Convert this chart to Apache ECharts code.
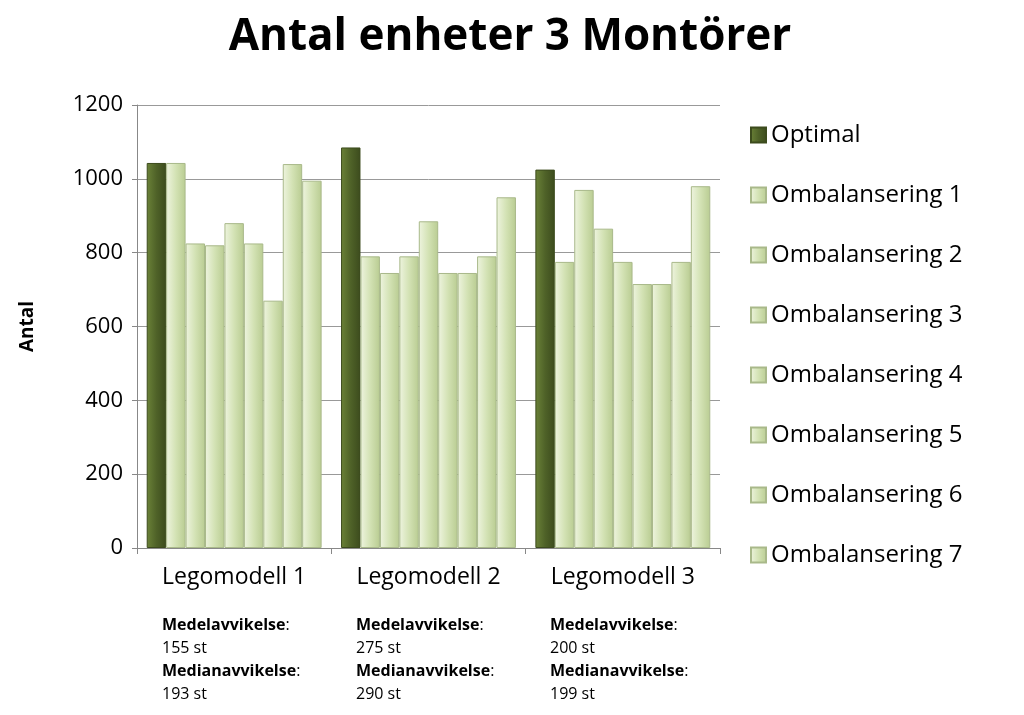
<!DOCTYPE html>
<html><head><meta charset="utf-8">
<script src="https://cdn.jsdelivr.net/npm/echarts@6/dist/echarts.min.js"></script>
<style>html,body{margin:0;background:#fff}#c{width:1024px;height:715px}</style>
</head><body><div id="c"></div>
<script>
var categories = ['Legomodell 1', 'Legomodell 2', 'Legomodell 3'];
var seriesNames = ['Optimal', 'Ombalansering 1', 'Ombalansering 2', 'Ombalansering 3', 'Ombalansering 4',
    'Ombalansering 5', 'Ombalansering 6', 'Ombalansering 7', 'Ombalansering 8'];
var values = [
    [1043, 1085, 1025],
    [1043, 790, 775],
    [825, 745, 970],
    [820, 790, 865],
    [880, 885, 775],
    [825, 745, 715],
    [670, 745, 715],
    [1040, 790, 775],
    [995, 950, 980]
];
var notes = [
    ['155 st', '193 st'],
    ['275 st', '290 st'],
    ['200 st', '199 st']
];

var chart = echarts.init(document.getElementById('c'));
var light = new echarts.graphic.LinearGradient(0, 0, 1, 0, [
    {offset: 0, color: '#eef4df'}, {offset: 0.5, color: '#d3e2b4'}, {offset: 1, color: '#b9cc92'}]);
var dark = new echarts.graphic.LinearGradient(0, 0, 1, 0, [
    {offset: 0, color: '#6b8238'}, {offset: 0.5, color: '#4f6228'}, {offset: 1, color: '#3c4b1d'}]);

var series = seriesNames.map(function (n, i) {
    return {
        name: n, type: 'bar', data: values[i], barGap: '0%', barCategoryGap: '10%',
        itemStyle: {color: i === 0 ? dark : light, borderColor: i === 0 ? '#3c4b1d' : '#a9b98a', borderWidth: 1}
    };
});

var graphics = [];
notes.forEach(function (n, i) {
    graphics.push({
        type: 'text', left: 162 + i * 194, top: 617,
        style: {
            rich: {b: {fontWeight: 'bold', fontSize: 16, fontFamily: 'Open Sans', lineHeight: 23, fill: '#000'},
                   n: {fontSize: 16, fontFamily: 'Open Sans', lineHeight: 23, fill: '#000'}},
            text: '{b|Medelavvikelse}{n|:}\n{n|' + n[0] + '}\n{b|Medianavvikelse}{n|:}\n{n|' + n[1] + '}'
        }
    });
});

chart.setOption({
    animation: false,
    title: {text: 'Antal enheter 3 Montörer', left: 505, textAlign: 'center', top: 10,
        textStyle: {fontSize: 44, fontWeight: 'bold', fontFamily: 'Open Sans', color: '#000'}},
    grid: {left: 137, right: 304, top: 105, bottom: 167},
    legend: {
        data: seriesNames.slice(0, 8), orient: 'vertical', left: 745, top: 118, itemGap: 36,
        itemWidth: 15, itemHeight: 15, icon: 'rect',
        textStyle: {fontSize: 24, fontFamily: 'Open Sans', color: '#000'}
    },
    xAxis: {type: 'category', data: categories,
        axisLine: {lineStyle: {color: '#888'}}, axisTick: {show: true, length: 6, lineStyle: {color: '#888'}},
        axisLabel: {fontSize: 23, fontFamily: 'Open Sans', color: '#000', margin: 18}},
    yAxis: {type: 'value', min: 0, max: 1200, interval: 200, name: 'Antal', nameLocation: 'middle', nameGap: 100,
        nameTextStyle: {fontSize: 19, fontWeight: 'bold', fontFamily: 'Open Sans', color: '#000'},
        axisLine: {show: true, lineStyle: {color: '#888'}}, axisTick: {show: true, lineStyle: {color: '#888'}},
        splitLine: {lineStyle: {color: '#999'}},
        axisLabel: {fontSize: 22, fontFamily: 'Open Sans', color: '#000', margin: 14,
            formatter: function (v) { return String(v); }}},
    series: series,
    graphic: graphics
});
</script></body></html>
